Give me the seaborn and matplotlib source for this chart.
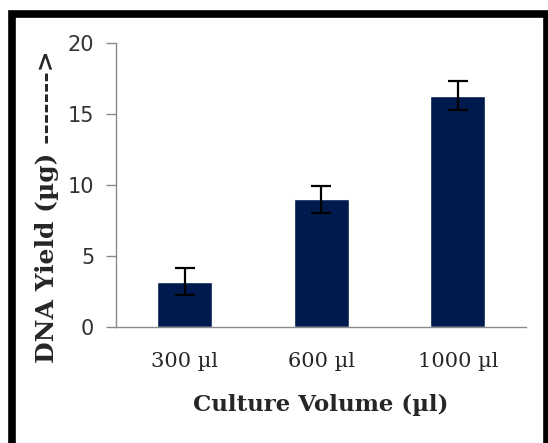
import matplotlib
matplotlib.use("Agg")
import matplotlib.pyplot as plt
import seaborn as sns
import pandas as pd
from matplotlib.patches import Rectangle

# datos
volumes = ["300 µl", "600 µl", "1000 µl"]
dna_yield = [3.2, 9.0, 16.3]
yield_err = [0.95, 0.95, 1.05]
y_ticks = [0, 5, 10, 15, 20]

df = pd.DataFrame({"Volume": volumes, "Yield": dna_yield})

sns.set_style("white")
plt.rcParams["font.family"] = ["DejaVu Serif"]

fig = plt.figure(figsize=(5.48, 4.43), dpi=100)
ax = fig.add_axes([0.2124, 0.2619, 0.9599 - 0.2124, 0.9029 - 0.2619])

sns.barplot(data=df, x="Volume", y="Yield", color="#001a4d", width=0.4,
            saturation=1, errorbar=None, ax=ax)
ax.errorbar(x=range(len(volumes)), y=dna_yield, yerr=yield_err, fmt="none",
            ecolor="black", elinewidth=1.6, capsize=7, capthick=1.6)

# ejes estilo Excel
ax.set_xlim(-0.5, len(volumes) - 0.5)
ax.set_ylim(0, 20)
ax.set_yticks(y_ticks)
ax.set_yticklabels([str(t) for t in y_ticks], family="DejaVu Sans",
                   fontsize=15, color="#333333")
ax.set_xticks([i - 0.5 for i in range(len(volumes) + 1)], minor=True)
ax.tick_params(axis="x", which="major", length=0, pad=18, labelsize=15)
ax.tick_params(axis="x", which="minor", length=7, width=1, color="#8a8a8a",
               direction="out")
ax.tick_params(axis="y", length=7, width=1, color="#8a8a8a", direction="out",
               left=True, pad=9)
for side in ["top", "right"]:
    ax.spines[side].set_visible(False)
for side in ["left", "bottom"]:
    ax.spines[side].set_color("#8a8a8a")
    ax.spines[side].set_linewidth(1)

ax.set_xlabel("")
ax.set_ylabel("")
fig.text(0.586, 1 - 405 / 443, "Culture Volume (µl)", ha="center", va="center",
         fontsize=16.5, fontweight="bold")
fig.text(47 / 548, 1 - 207 / 443, "DNA Yield (µg) ------->", ha="center",
         va="center", rotation=90, fontsize=18, fontweight="bold")

# marco negro
fig.patches.append(Rectangle((11.5 / 548, -0.003), 535 / 548, 0.9725,
                             transform=fig.transFigure, fill=False,
                             edgecolor="black", linewidth=5.5))

fig.savefig("out.png", dpi=100)
